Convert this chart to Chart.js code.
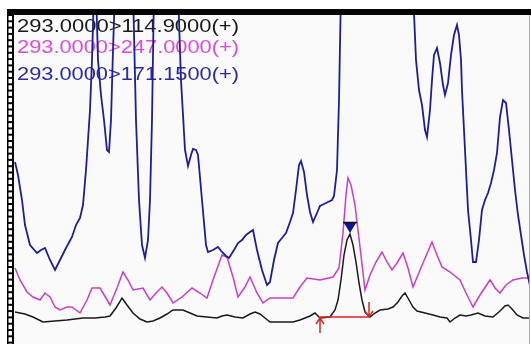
<!DOCTYPE html>
<html>
<head>
<meta charset="utf-8">
<script src="https://cdn.jsdelivr.net/npm/chart.js@4/dist/chart.umd.min.js"></script>
<style>
  html, body { margin: 0; padding: 0; background: #ffffff; }
  #wrap { width: 531px; height: 344px; }
</style>
</head>
<body>
<div id="wrap"><canvas id="chromatogram" width="531" height="344"></canvas></div>
<script>
// MRM transitions (precursor > product)
const transitionLabels = ['293.0000>114.9000(+)', '293.0000>247.0000(+)', '293.0000>171.1500(+)'];

// 293 > 114.9 (quantifier)
const mrm114Scan = [15,25,33,43,55,67,75,83,95,105,110,116,122,127,133,140,147,153,160,167,173,183,190,197,207,217,222,227,235,243,250,255,260,265,270,283,293,300,310,315,320,330,335,338,341,344,347,350,353,356,359,362,365,370,375,380,388,393,398,402,405,409,413,417,425,433,440,447,450,455,460,466,471,478,485,493,500,505,508,512,517,523,531];
const mrm114Int = [32,30,27,22,23,24,25,26,26,27,28,36,46,39,31,25,22,23,26,30,34,34,31,28,27,26,28,29,27,26,30,32,30,26,22,22,22,24,28,31,26,27,34,44,64,89,104,110,99,82,61,44,32,27,31,34,35,37,42,48,51,44,37,33,31,29,27,26,22,26,29,28,29,31,28,27,33,38,39,35,29,26,26];

// 293 > 247.0
const mrm247Scan = [15,20,27,33,40,45,50,55,60,67,72,80,87,92,100,103,110,117,123,128,133,143,150,157,162,167,173,182,192,200,207,213,222,227,233,238,245,250,257,263,270,283,293,300,307,320,333,339,343,346,348,351,355,360,365,370,376,382,387,392,397,403,408,413,418,423,432,437,442,450,460,466,473,480,490,495,500,506,513,522,531];
const mrm247Int = [76,64,52,47,44,51,47,37,34,37,37,31,44,56,56,51,39,56,72,64,54,56,44,52,57,51,41,47,56,51,46,64,89,87,67,47,57,67,51,41,46,46,46,57,66,64,67,76,111,149,166,159,139,97,54,69,82,92,82,74,81,91,76,57,69,81,102,89,77,72,64,51,37,49,64,56,51,59,64,66,66];

// 293 > 171.15
const mrm171Scan = [15,18,22,25,30,37,41,45,50,55,60,66,72,76,80,83,86,88,90,92,94,96,98,101,104,107,109,111,113,115,133,136,139,142,145,148,150,152,154,178,181,185,188,191,193,196,198,202,206,208,213,218,222,226,229,234,238,242,246,250,253,257,262,267,270,274,278,282,286,290,293,296,299,301,304,307,310,313,317,320,324,328,332,334,337,339,341,413,416,419,422,425,427,430,432,434,437,440,443,445,448,451,454,457,459,461,462,464,466,468,471,473,476,479,482,485,488,491,494,497,500,503,506,509,512,515,518,521,524,527,531];
const mrm171Int = [182,169,144,119,99,91,94,96,84,74,84,96,107,119,126,139,174,204,234,284,354,354,284,249,224,194,192,224,294,354,354,224,144,99,86,104,144,224,354,354,264,194,178,189,195,194,189,144,99,92,94,97,92,88,86,94,101,104,109,112,114,94,74,59,62,84,101,106,111,122,131,154,179,183,172,149,132,122,131,138,140,142,144,148,174,244,354,354,284,254,239,214,207,234,264,289,296,281,259,249,261,289,309,319,309,284,254,214,174,134,104,82,82,104,134,144,151,161,174,191,227,244,241,214,184,154,129,109,89,72,54];

// integrated peak on the quantifier trace
const peakStartScan = [320];
const peakEndScan = [369];
const peakBaseline = [27];
const peakApexScan = [350];
const peakApexInt = [110];

const xRange = [14, 529];
const yRange = [0, 329];

const toPoints = (xs, ys) => xs.map((x, i) => ({ x: x, y: ys[i] }));

const frame = {
  id: 'frame',
  beforeDraw(chart) {
    const { ctx, chartArea: a } = chart;
    ctx.save();
    ctx.fillStyle = '#ffffff';
    ctx.fillRect(0, 0, chart.width, chart.height);
    ctx.fillStyle = '#fafafa';
    ctx.fillRect(a.left, a.top, a.right - a.left, a.bottom - a.top);
    ctx.restore();
  },
  beforeDatasetsDraw(chart) {
    const { ctx, chartArea: a } = chart;
    const colors = ['#1a1a1a', '#e04ad8', '#2b2ba6'];
    const baselines = [32, 53, 80];
    ctx.save();
    ctx.font = '19px "Liberation Sans", Arial, sans-serif';
    ctx.textBaseline = 'alphabetic';
    transitionLabels.forEach((t, i) => {
      const w = ctx.measureText(t).width;
      ctx.save();
      ctx.translate(a.left + 3, baselines[i]);
      ctx.scale(222 / w, 1);
      ctx.fillStyle = colors[i];
      ctx.fillText(t, 0, 0);
      ctx.restore();
    });
    ctx.restore();
  },
  afterDatasetsDraw(chart) {
    const { ctx, chartArea: a, scales } = chart;
    const xs = scales.x, ys = scales.y;
    ctx.save();

    // integration baseline with start / end markers
    const x0 = xs.getPixelForValue(peakStartScan[0]);
    const x1 = xs.getPixelForValue(peakEndScan[0]);
    const yb = ys.getPixelForValue(peakBaseline[0]);
    ctx.strokeStyle = '#e02424';
    ctx.lineWidth = 1.5;
    ctx.beginPath();
    ctx.moveTo(x0, yb); ctx.lineTo(x1, yb);
    ctx.moveTo(x0, yb); ctx.lineTo(x0, yb + 16);
    ctx.moveTo(x0 - 4, yb + 7); ctx.lineTo(x0, yb + 1); ctx.lineTo(x0 + 4, yb + 7);
    ctx.moveTo(x1, yb); ctx.lineTo(x1, yb - 15);
    ctx.moveTo(x1 - 4, yb - 6); ctx.lineTo(x1, yb); ctx.lineTo(x1 + 4, yb - 6);
    ctx.stroke();

    // apex marker
    const xa = xs.getPixelForValue(peakApexScan[0]);
    const ya = ys.getPixelForValue(peakApexInt[0]);
    ctx.fillStyle = '#12129a';
    ctx.beginPath();
    ctx.moveTo(xa - 6, ya - 11);
    ctx.lineTo(xa + 6, ya - 11);
    ctx.lineTo(xa, ya - 1);
    ctx.closePath();
    ctx.fill();
    ctx.strokeStyle = '#111111';
    ctx.lineWidth = 1.5;
    ctx.beginPath();
    ctx.moveTo(xa - 7, ya - 11.5); ctx.lineTo(xa + 7, ya - 11.5);
    ctx.stroke();

    // top bar
    ctx.fillStyle = '#050505';
    ctx.fillRect(7, 9, chart.width - 7, a.top - 9);

    // left ruler
    ctx.fillRect(7, 9, a.left - 7, chart.height - 9);
    ctx.fillStyle = '#ffffff';
    for (let y = a.top + 1; y < chart.height; y += 6.3) {
      ctx.fillRect(8.5, y, a.left - 10.5, 4.3);
    }

    // right edge
    ctx.strokeStyle = '#a8a8a8';
    ctx.lineWidth = 1;
    ctx.beginPath();
    ctx.moveTo(a.right + 0.5, a.top); ctx.lineTo(a.right + 0.5, chart.height);
    ctx.stroke();
    ctx.restore();
  }
};

new Chart(document.getElementById('chromatogram'), {
  type: 'line',
  data: {
    datasets: [
      { label: transitionLabels[2], data: toPoints(mrm171Scan, mrm171Int), borderColor: '#1e1e98', borderWidth: 1.8 },
      { label: transitionLabels[1], data: toPoints(mrm247Scan, mrm247Int), borderColor: '#cc3ccc', borderWidth: 1.5 },
      { label: transitionLabels[0], data: toPoints(mrm114Scan, mrm114Int), borderColor: '#1a1a1a', borderWidth: 1.5 }
    ]
  },
  options: {
    responsive: false,
    animation: false,
    events: [],
    layout: { padding: { left: 14, right: 2, top: 15, bottom: 0 } },
    elements: { point: { radius: 0 }, line: { tension: 0 } },
    datasets: { line: { clip: 0 } },
    scales: {
      x: { type: 'linear', display: false, min: xRange[0], max: xRange[1] },
      y: { type: 'linear', display: false, min: yRange[0], max: yRange[1] }
    },
    plugins: { legend: { display: false }, tooltip: { enabled: false } }
  },
  plugins: [frame]
});
</script>
</body>
</html>
